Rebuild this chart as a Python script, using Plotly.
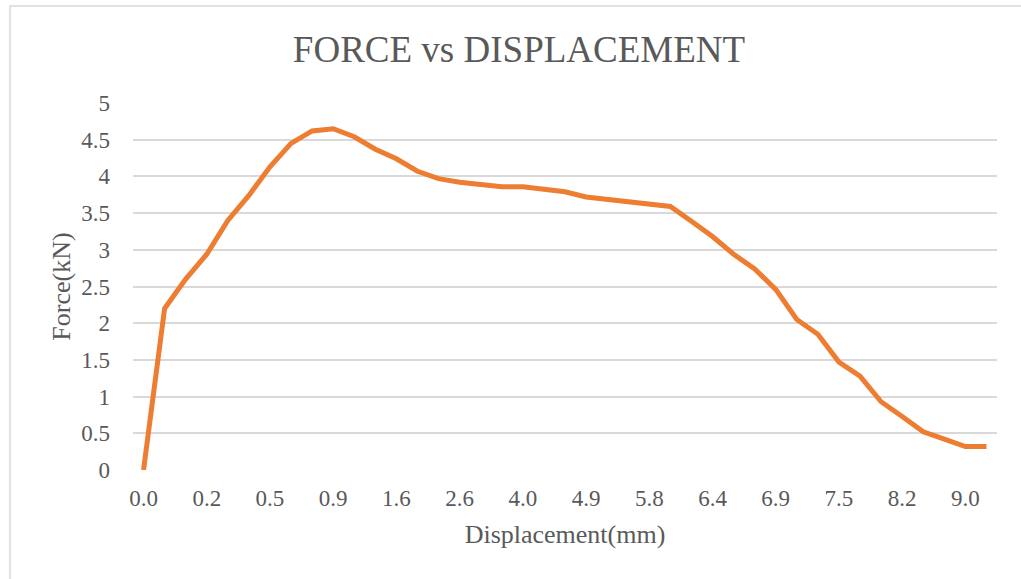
import plotly.graph_objects as go

# Force readings (kN), one per recorded displacement step
force_kn = [
    0.00, 2.20, 2.60, 2.94, 3.40, 3.74, 4.13, 4.45, 4.62, 4.65,
    4.54, 4.37, 4.24, 4.07, 3.97, 3.92, 3.89, 3.86, 3.86, 3.83,
    3.79, 3.72, 3.69, 3.66, 3.62, 3.59, 3.39, 3.18, 2.94, 2.74,
    2.46, 2.05, 1.85, 1.47, 1.28, 0.93, 0.73, 0.52, 0.42, 0.32,
    0.32,
]

# Displacement labels shown on the category axis (every third step)
tick_labels = ["0.0", "0.2", "0.5", "0.9", "1.6", "2.6", "4.0",
               "4.9", "5.8", "6.4", "6.9", "7.5", "8.2", "9.0"]
tick_step = 3

y_ticks = [0, 0.5, 1, 1.5, 2, 2.5, 3, 3.5, 4, 4.5, 5]

steps = list(range(len(force_kn)))

serif = "Liberation Serif, Times New Roman, serif"
grey = "#595959"

fig = go.Figure(
    go.Scatter(
        x=steps,
        y=force_kn,
        mode="lines",
        line=dict(color="#ED7D31", width=5),
        hoverinfo="skip",
    )
)

fig.update_layout(
    width=1021,
    height=579,
    margin=dict(l=133, r=24, t=103, b=109),
    paper_bgcolor="white",
    plot_bgcolor="white",
    showlegend=False,
    title=dict(
        text="FORCE vs DISPLACEMENT",
        x=519 / 1021, xref="container", xanchor="center",
        y=1 - 49 / 579, yanchor="middle",
        font=dict(family=serif, size=37, color=grey),
    ),
    font=dict(family=serif, color=grey),
)

fig.update_xaxes(
    range=[-0.5, len(force_kn) - 0.5],
    tickmode="array",
    tickvals=steps[::tick_step],
    ticktext=tick_labels,
    tickfont=dict(family=serif, size=23, color=grey),
    ticks="",
    ticklabelstandoff=12,
    showgrid=False,
    zeroline=False,
    showline=False,
    title=dict(text="Displacement(mm)", font=dict(family=serif, size=26, color=grey), standoff=14),
    fixedrange=True,
)

fig.update_yaxes(
    range=[0, 5],
    tickmode="array",
    tickvals=y_ticks,
    ticktext=[f"{v:g}" for v in y_ticks],
    tickfont=dict(family=serif, size=23, color=grey),
    ticks="",
    ticklabelstandoff=22,
    showgrid=True,
    gridcolor="#d9d9d9",
    gridwidth=1.5,
    zeroline=False,
    showline=False,
    title=dict(text="Force(kN)", font=dict(family=serif, size=26, color=grey), standoff=3),
    fixedrange=True,
)

# Chart-area frame
fig.add_shape(
    type="rect", xref="paper", yref="paper",
    x0=(10 - 133) / 864, x1=1.2,
    y0=-0.6, y1=1 + (103 - 6) / 367,
    line=dict(color="#d9d9d9", width=1.5),
    fillcolor="rgba(0,0,0,0)",
    layer="below",
)

fig.write_html("out.html", config={"displayModeBar": False})
